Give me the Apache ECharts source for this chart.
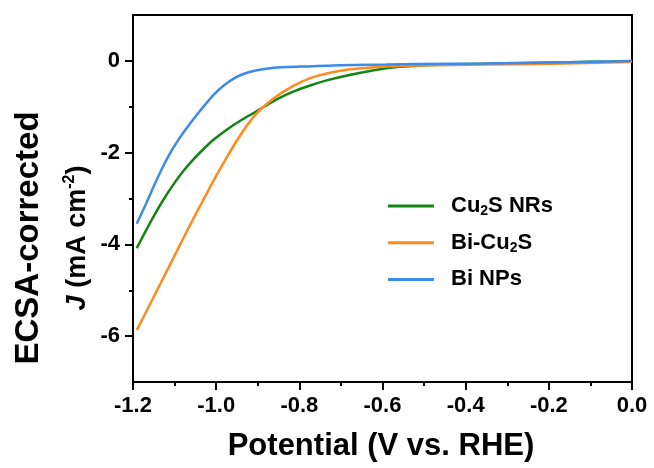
<!DOCTYPE html>
<html>
<head>
<meta charset="utf-8">
<script src="https://cdn.jsdelivr.net/npm/echarts@6/dist/echarts.min.js"></script>
<style>
  html, body { margin: 0; padding: 0; background: #fff; }
  #chart { width: 654px; height: 468px; }
</style>
</head>
<body>
<div id="chart"></div>
<script>
// Linear sweep voltammetry, ECSA-normalised current density vs potential
const seriesNames = ['Cu2S NRs', 'Bi-Cu2S', 'Bi NPs'];
const seriesColors = ['#128512', '#ff8a1d', '#3b8bef'];

// [potential (V vs. RHE), J (mA cm-2)]
const cu2sNRs = [
  [-1.191, -4.08], [-1.173, -3.77], [-1.149, -3.37], [-1.125, -3.00], [-1.101, -2.67],
  [-1.077, -2.38], [-1.053, -2.13], [-1.029, -1.91], [-1.005, -1.71], [-0.973, -1.49],
  [-0.941, -1.30], [-0.909, -1.13], [-0.885, -1.00], [-0.852, -0.83], [-0.812, -0.66],
  [-0.772, -0.53], [-0.732, -0.42], [-0.671, -0.29], [-0.591, -0.16], [-0.511, -0.10],
  [-0.43, -0.075], [-0.35, -0.06], [-0.25, -0.045], [-0.15, -0.03], [-0.05, -0.012],
  [0.0, 0.0]
];
const biCu2S = [
  [-1.191, -5.87], [-1.165, -5.41], [-1.141, -4.98], [-1.117, -4.55], [-1.093, -4.12],
  [-1.069, -3.69], [-1.045, -3.27], [-1.021, -2.86], [-0.997, -2.46], [-0.973, -2.08],
  [-0.949, -1.72], [-0.925, -1.40], [-0.901, -1.13], [-0.877, -0.93], [-0.853, -0.76],
  [-0.829, -0.62], [-0.805, -0.50], [-0.772, -0.37], [-0.732, -0.27], [-0.690, -0.20],
  [-0.640, -0.155], [-0.591, -0.125], [-0.511, -0.10], [-0.43, -0.09], [-0.35, -0.08],
  [-0.19, -0.065], [-0.03, -0.03], [0.0, -0.02]
];
const biNPs = [
  [-1.191, -3.55], [-1.177, -3.28], [-1.163, -3.00], [-1.149, -2.71], [-1.133, -2.40],
  [-1.113, -2.05], [-1.093, -1.75], [-1.073, -1.49], [-1.053, -1.25], [-1.029, -0.98],
  [-1.005, -0.73], [-0.981, -0.53], [-0.957, -0.38], [-0.933, -0.28], [-0.905, -0.21],
  [-0.870, -0.16], [-0.830, -0.135], [-0.780, -0.12], [-0.732, -0.105], [-0.671, -0.09],
  [-0.591, -0.08], [-0.511, -0.07], [-0.35, -0.055], [-0.19, -0.035], [-0.03, -0.01],
  [0.0, 0.0]
];

const xTickValues = [-1.2, -1.0, -0.8, -0.6, -0.4, -0.2, 0.0];
const yTickValues = [-6, -4, -2, 0];
const yMinorTickValues = [-5, -3, -1];

const FONT = '"Liberation Sans", Arial, Helvetica, sans-serif';
const axisLineStyle = { color: '#000', width: 2 };
const plotRect = { left: 133, right: 22, top: 15, bottom: 86 };

const chart = echarts.init(document.getElementById('chart'), null, { renderer: 'canvas' });

const seriesData = [cu2sNRs, biCu2S, biNPs];

chart.setOption({
  animation: false,
  backgroundColor: '#fff',
  textStyle: { fontFamily: FONT },
  grid: [
    Object.assign({
      show: true, borderColor: '#000', borderWidth: 2,
      backgroundColor: 'transparent', outerBoundsMode: 'none'
    }, plotRect),
    // overlay grid carrying the odd-valued (minor) ticks of the current axis
    Object.assign({ show: false, outerBoundsMode: 'none' }, plotRect)
  ],
  xAxis: [
    {
      type: 'value', gridIndex: 0,
      min: -1.2, max: 0, interval: 0.2,
      axisLine: { show: true, onZero: false, lineStyle: axisLineStyle },
      axisTick: { show: true, length: 8, lineStyle: axisLineStyle },
      minorTick: { show: true, splitNumber: 2, length: 4, lineStyle: axisLineStyle },
      axisLabel: {
        customValues: xTickValues,
        margin: 13, fontSize: 22, fontWeight: 'bold', color: '#000', fontFamily: FONT,
        showMinLabel: true, showMaxLabel: true,
        formatter: v => Math.abs(v) < 1e-9 ? '0.0' : v.toFixed(1)
      },
      splitLine: { show: false },
      minorSplitLine: { show: false }
    },
    {
      type: 'value', gridIndex: 1, show: false,
      min: -1.2, max: 0,
      axisLine: { show: false, onZero: false }
    }
  ],
  yAxis: [
    {
      type: 'value', gridIndex: 0,
      min: -7, max: 1,
      position: 'left',
      axisLine: { show: true, onZero: false, lineStyle: axisLineStyle },
      axisTick: { show: true, customValues: yTickValues, length: 8, lineStyle: axisLineStyle },
      axisLabel: {
        customValues: yTickValues,
        margin: 13, fontSize: 22, fontWeight: 'bold', color: '#000', fontFamily: FONT
      },
      splitLine: { show: false }
    },
    {
      type: 'value', gridIndex: 1,
      min: -7, max: 1,
      position: 'left',
      axisLine: { show: false, onZero: false },
      axisTick: { show: true, customValues: yMinorTickValues, length: 4, lineStyle: axisLineStyle },
      axisLabel: { show: false },
      splitLine: { show: false }
    }
  ],
  legend: {
    orient: 'vertical',
    left: 388, top: 194,
    padding: 0,
    icon: 'rect',
    itemWidth: 46, itemHeight: 3, itemGap: 12.7,
    data: seriesNames,
    formatter: name => name.replace('2', '{sub|2}'),
    textStyle: {
      fontSize: 22, fontWeight: 'bold', color: '#000', fontFamily: FONT,
      lineHeight: 24,
      padding: [0, 0, 0, 12],
      rich: {
        sub: { fontSize: 14, fontWeight: 'bold', fontFamily: FONT, color: '#000',
               verticalAlign: 'bottom', lineHeight: 10 }
      }
    }
  },
  series: seriesNames.map((name, i) => ({
    name: name,
    type: 'line',
    data: seriesData[i],
    xAxisIndex: 0,
    yAxisIndex: 0,
    symbol: 'none',
    showSymbol: false,
    smooth: 0.3,
    color: seriesColors[i],
    lineStyle: { color: seriesColors[i], width: 2.5 },
    z: 2 + i
  })),
  graphic: [
    {
      type: 'text',
      x: 381, y: 446,
      style: {
        text: 'Potential (V vs. RHE)',
        fontSize: 31, fontWeight: 'bold', fontFamily: FONT, fill: '#000',
        align: 'center', verticalAlign: 'middle'
      }
    },
    {
      type: 'text',
      x: 29, y: 238,
      rotation: Math.PI / 2,
      style: {
        text: 'ECSA-corrected',
        fontSize: 33, fontWeight: 'bold', fontFamily: FONT, fill: '#000',
        align: 'center', verticalAlign: 'middle'
      }
    },
    {
      type: 'text',
      x: 78, y: 238,
      rotation: Math.PI / 2,
      style: {
        text: '{i|J} (mA cm{sup|-2})',
        fontSize: 27, fontWeight: 'bold', fontFamily: FONT, fill: '#000',
        lineHeight: 32,
        align: 'center', verticalAlign: 'middle',
        rich: {
          i: { fontSize: 27, fontWeight: 'bold', fontStyle: 'italic', fontFamily: FONT, fill: '#000', lineHeight: 32 },
          sup: { fontSize: 16, fontWeight: 'bold', fontFamily: FONT, fill: '#000', verticalAlign: 'top', lineHeight: 16 }
        }
      }
    }
  ]
});
</script>
</body>
</html>
